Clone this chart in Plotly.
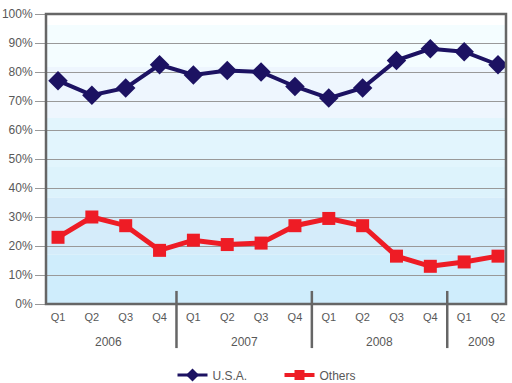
import plotly.graph_objects as go

quarters = ["Q1", "Q2", "Q3", "Q4", "Q1", "Q2", "Q3", "Q4", "Q1", "Q2", "Q3", "Q4", "Q1", "Q2"]
years = ["2006", "2007", "2008", "2009"]
year_centers = [1.5, 5.5, 9.5, 12.5]
year_separators = [3.5, 7.5, 11.5]
usa = [77, 72, 74.5, 82.5, 79, 80.5, 80, 75, 71, 74.5, 84, 88, 87, 82.5]
others = [23, 30, 27, 18.5, 22, 20.5, 21, 27, 29.5, 27, 16.5, 13, 14.5, 16.5]
y_ticks = [0, 10, 20, 30, 40, 50, 60, 70, 80, 90, 100]

x = list(range(len(quarters)))
FAM = "Liberation Sans, Arial, sans-serif"
font12 = dict(family=FAM, size=12, color="#585858")
font11 = dict(family=FAM, size=11, color="#585858")
NAVY = "#1c1262"
RED = "#ee1c25"

fig = go.Figure()
fig.add_trace(go.Scatter(x=x, y=usa, name="U.S.A.", mode="lines+markers", showlegend=False,
                         line=dict(color=NAVY, width=4),
                         marker=dict(symbol="diamond", size=15, color=NAVY)))
fig.add_trace(go.Scatter(x=x, y=others, name="Others", mode="lines+markers", showlegend=False,
                         line=dict(color=RED, width=5),
                         marker=dict(symbol="square", size=13, color=RED)))
# legend entries with smaller symbols, as in the reference legend
fig.add_trace(go.Scatter(x=[None], y=[None], name="U.S.A.", mode="lines+markers",
                         line=dict(color=NAVY, width=3),
                         marker=dict(symbol="diamond", size=10, color=NAVY)))
fig.add_trace(go.Scatter(x=[None], y=[None], name="Others", mode="lines+markers",
                         line=dict(color=RED, width=4),
                         marker=dict(symbol="square", size=10, color=RED)))

bands = [(96.2, 100, "#ffffff"), (81.7, 96.2, "#f4fdff"), (64.1, 81.7, "#eef6fe"),
         (47.2, 64.1, "#e2f5fd"), (36.6, 47.2, "#ddf3fc"), (17, 36.6, "#d5ecfa"),
         (0, 17, "#cfedfc")]
shapes = []
for y0, y1, c in bands:
    shapes.append(dict(type="rect", xref="paper", yref="y", x0=0, x1=1, y0=y0, y1=y1,
                       fillcolor=c, line=dict(width=0), layer="below"))
shapes.append(dict(type="rect", xref="paper", yref="paper", x0=0, x1=1, y0=0, y1=1,
                   line=dict(color="#666666", width=2.5), fillcolor="rgba(0,0,0,0)"))
for s in year_separators:
    shapes.append(dict(type="line", xref="x", yref="paper", x0=s, x1=s, y0=0.045, y1=-0.152,
                       line=dict(color="#666666", width=2.5)))

annotations = [dict(x=c, y=-0.131, xref="x", yref="paper", text=t, showarrow=False,
                    font=font12, yanchor="middle") for c, t in zip(year_centers, years)]

fig.update_layout(
    width=512, height=383,
    margin=dict(l=46, r=6, t=14, b=79, autoexpand=False),
    paper_bgcolor="white", plot_bgcolor="rgba(0,0,0,0)",
    font=font12,
    shapes=shapes, annotations=annotations,
    showlegend=True,
    legend=dict(orientation="h", x=0.275, xanchor="left", yref="container", y=0.021,
                yanchor="middle", font=font12, itemwidth=30,
                entrywidth=62, entrywidthmode="pixels"),
    xaxis=dict(range=[-0.355, 13.236], tickvals=x, ticktext=quarters, showgrid=False,
               zeroline=False, ticks="outside", ticklen=3, tickcolor="rgba(0,0,0,0)",
               tickfont=font11, automargin=False, ticklabeloverflow="allow"),
    yaxis=dict(range=[0, 100], tickvals=y_ticks, ticktext=[f"{v}%" for v in y_ticks],
               showgrid=True, gridcolor="#999999", gridwidth=1, zeroline=False,
               ticks="outside", ticklen=10, tickcolor="#999999", tickfont=font12,
               automargin=False, ticklabeloverflow="allow"),
)
fig.write_html("out.html", config={"displayModeBar": False},
               post_script="document.body.style.margin='0';document.body.style.overflow='hidden';")
